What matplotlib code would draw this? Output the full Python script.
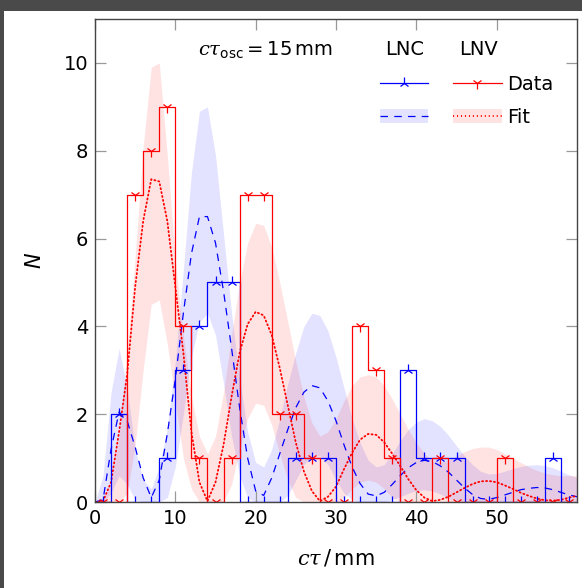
import numpy as np
import matplotlib
matplotlib.use("Agg")
import matplotlib.pyplot as plt
from matplotlib.patches import Patch, Rectangle
from matplotlib.lines import Line2D

# ---------------- data ----------------
bin_edges = list(range(0, 62, 2))               # 0..60 mm, width 2
bin_centers = list(range(1, 60, 2))             # 1..59
lnc_counts = [0, 2, 0, 0, 1, 3, 4, 5, 5, 0, 0, 0, 1, 1, 1,
              0, 0, 0, 0, 3, 1, 1, 1, 0, 0, 0, 0, 0, 1, 0]
lnv_counts = [0, 0, 7, 8, 9, 4, 1, 0, 1, 7, 7, 2, 2, 1, 0,
              0, 4, 3, 1, 0, 0, 1, 0, 0, 0, 1, 0, 0, 0, 0]

fit_x = list(range(0, 61))
lnc_fit = [0.0, 0.05, 1.2, 2.05, 1.85, 1.25, 0.55, 0.1, 0.5, 1.55,
           2.8, 4.3, 5.65, 6.5, 6.5, 5.9, 4.8, 3.5, 2.15, 1.0,
           0.25, 0.15, 0.55, 1.1, 1.65, 2.15, 2.5, 2.65, 2.6, 2.3,
           1.85, 1.3, 0.8, 0.42, 0.18, 0.14, 0.22, 0.4, 0.6, 0.78,
           0.9, 0.95, 0.92, 0.82, 0.68, 0.5, 0.32, 0.17, 0.08, 0.06,
           0.1, 0.16, 0.22, 0.28, 0.31, 0.33, 0.32, 0.28, 0.22, 0.16, 0.12]
lnc_hi = [0.0, 0.6, 2.5, 3.5, 2.6, 1.2, 0.5, 0.3, 0.8, 1.7,
          3.2, 5.3, 7.5, 8.9, 9.0, 7.9, 6.1, 4.3, 2.8, 1.6,
          0.9, 0.8, 1.2, 1.9, 2.7, 3.4, 4.0, 4.3, 4.25, 3.9,
          3.3, 2.6, 1.9, 1.35, 0.95, 0.8, 0.85, 1.1, 1.4, 1.65,
          1.82, 1.9, 1.85, 1.72, 1.52, 1.28, 1.05, 0.85, 0.7, 0.64,
          0.65, 0.7, 0.76, 0.81, 0.84, 0.85, 0.83, 0.78, 0.7, 0.62, 0.56]
lnc_lo = [0.0, 0.0, 0.2, 0.6, 0.4, 0.05, 0.0, 0.0, 0.0, 0.1,
          0.8, 2.0, 3.3, 4.1, 4.3, 3.8, 2.7, 1.5, 0.6, 0.1,
          0.0, 0.0, 0.0, 0.0, 0.15, 0.5, 0.85, 1.05, 1.05, 0.85,
          0.5, 0.2, 0.05, 0.0, 0.0, 0.0, 0.0, 0.05, 0.12, 0.2,
          0.26, 0.28, 0.25, 0.18, 0.08, 0.02, 0.0, 0.0, 0.0, 0.0,
          0.0, 0.0, 0.0, 0.0, 0.0, 0.0, 0.0, 0.0, 0.0, 0.0, 0.0]
lnv_fit = [0.0, 0.02, 0.45, 1.6, 2.9, 4.9, 6.4, 7.35, 7.3, 6.4,
           4.9, 3.4, 1.6, 0.45, 0.02, 0.45, 1.3, 2.4, 3.4, 4.05,
           4.33, 4.25, 3.8, 3.05, 2.2, 1.35, 0.7, 0.25, 0.02, 0.12,
           0.35, 0.75, 1.12, 1.42, 1.55, 1.53, 1.36, 1.1, 0.82, 0.52,
           0.27, 0.1, 0.02, 0.05, 0.12, 0.22, 0.32, 0.41, 0.47, 0.48,
           0.45, 0.38, 0.3, 0.21, 0.14, 0.08, 0.04, 0.03, 0.05, 0.1, 0.14]
lnv_hi = [0.0, 0.05, 0.4, 1.5, 3.4, 5.6, 8.1, 9.9, 10.0, 7.9,
          5.5, 3.8, 2.4, 1.5, 1.1, 1.5, 2.5, 3.8, 5.0, 5.9,
          6.35, 6.3, 5.8, 5.0, 4.1, 3.2, 2.4, 1.8, 1.5, 1.6,
          1.9, 2.3, 2.65, 2.85, 2.9, 2.85, 2.65, 2.35, 2.0, 1.65,
          1.35, 1.1, 0.95, 0.9, 0.95, 1.05, 1.15, 1.22, 1.25, 1.25,
          1.2, 1.1, 1.0, 0.9, 0.8, 0.72, 0.66, 0.62, 0.6, 0.6, 0.6]
lnv_lo = [0.0, 0.0, 0.0, 0.0, 0.2, 1.3, 3.0, 4.5, 4.6, 3.6,
          2.3, 1.0, 0.3, 0.0, 0.0, 0.0, 0.0, 0.4, 1.2, 1.9,
          2.25, 2.2, 1.75, 1.1, 0.5, 0.1, 0.0, 0.0, 0.0, 0.0,
          0.0, 0.1, 0.3, 0.45, 0.5, 0.45, 0.3, 0.1, 0.0, 0.0,
          0.0, 0.0, 0.0, 0.0, 0.0, 0.0, 0.0, 0.0, 0.0, 0.0,
          0.0, 0.0, 0.0, 0.0, 0.0, 0.0, 0.0, 0.0, 0.0, 0.0, 0.0]

x_ticks = [0, 10, 20, 30, 40, 50]
y_ticks = [0, 2, 4, 6, 8, 10]

# ---------------- figure ----------------
plt.rcParams['font.family'] = ['DejaVu Sans']
plt.rcParams['mathtext.fontset'] = 'custom'
plt.rcParams['mathtext.rm'] = 'DejaVu Sans'
plt.rcParams['mathtext.it'] = 'DejaVu Serif:italic'
plt.rcParams['mathtext.bf'] = 'DejaVu Sans:bold'

fig = plt.figure(figsize=(5.82, 5.88), dpi=100, facecolor='#4a4a4a')
fig.patches.append(Rectangle((4 / 582, 0), 1, 1 - 11 / 588, transform=fig.transFigure,
                             facecolor='white', edgecolor='none', zorder=-10))
ax = fig.add_axes([95 / 582, 1 - 502 / 588, 482 / 582, 483 / 588])
ax.set_facecolor('white')

blue = '#0000ff'
red = '#ff0000'
band_alpha = 0.11

ax.fill_between(fit_x, lnc_lo, lnc_hi, color=blue, alpha=band_alpha, linewidth=0, zorder=1)
ax.fill_between(fit_x, lnv_lo, lnv_hi, color=red, alpha=band_alpha, linewidth=0, zorder=1)

ax.plot(fit_x, lnc_fit, color=blue, lw=0.9, ls=(0, (6, 5)), zorder=3)
ax.plot(fit_x, lnv_fit, color=red, lw=1.3, ls=(0, (0.6, 1.6)), dash_capstyle='round', zorder=3)

ax.plot(bin_centers, lnc_counts, drawstyle='steps-mid', color=blue, lw=0.9,
        marker='2', ms=8, mew=0.9, zorder=4)
ax.plot(bin_centers, lnv_counts, drawstyle='steps-mid', color=red, lw=0.9,
        marker='1', ms=8, mew=0.9, zorder=4)

ax.set_xlim(0, 60)
ax.set_ylim(0, 11)
ax.set_xticks(x_ticks)
ax.set_yticks(y_ticks)
ax.tick_params(direction='in', length=8, width=0.9, color='#999999', labelsize=14,
               top=True, right=True, pad=5)
for s in ax.spines.values():
    s.set_color('#444444')
    s.set_linewidth(1.0)
    s.set_zorder(5)

ax.set_xlabel(r'$c\tau\,/\,$mm', fontsize=15, labelpad=14)
ax.set_ylabel('N', fontsize=15, labelpad=14, style='italic')

ax.text(0.353, 0.936, r'$c\tau_{\mathrm{osc}}=15\,\mathrm{mm}$', transform=ax.transAxes,
        ha='center', va='center', fontsize=14)
ax.text(0.643, 0.936, 'LNC', transform=ax.transAxes, ha='center', va='center', fontsize=14)
ax.text(0.795, 0.936, 'LNV', transform=ax.transAxes, ha='center', va='center', fontsize=14)

h_lnc_data = Line2D([], [], color=blue, lw=0.9, marker='2', ms=8, mew=0.9)
h_lnv_data = Line2D([], [], color=red, lw=0.9, marker='1', ms=8, mew=0.9)
h_lnc_fit = (Patch(facecolor=blue, alpha=band_alpha, edgecolor='none'),
             Line2D([], [], color=blue, lw=0.9, ls=(0, (6, 5))))
h_lnv_fit = (Patch(facecolor=red, alpha=band_alpha, edgecolor='none'),
             Line2D([], [], color=red, lw=1.3, ls=(0, (0.6, 1.6))))
ax.legend([h_lnc_data, h_lnc_fit, h_lnv_data, h_lnv_fit], ['', '', 'Data', 'Fit'],
          ncol=2, frameon=False, fontsize=14, handlelength=2.5, handletextpad=0.26,
          columnspacing=1.0, labelspacing=0.7, borderpad=0, borderaxespad=0,
          loc='upper left', bbox_to_anchor=(0.591, 0.884))

fig.savefig('out.png', dpi=100, facecolor=fig.get_facecolor())
